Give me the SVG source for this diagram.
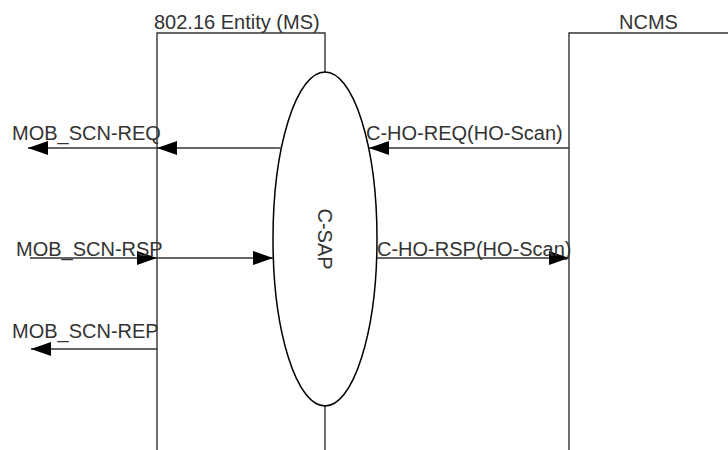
<svg xmlns="http://www.w3.org/2000/svg" width="728" height="450" viewBox="0 0 728 450">
<defs>
<marker id="ah" markerUnits="userSpaceOnUse" markerWidth="20" markerHeight="14" refX="20" refY="7" orient="auto">
<path d="M0,0 L20,7 L0,14 z" fill="#000"/>
</marker>
<style>
.t{font-family:"Liberation Sans",Arial,sans-serif;font-size:20px;fill:#333}
.ln{stroke:#333;stroke-width:1.4;fill:none}
.c{stroke:#333;stroke-width:1.4;fill:none;marker-end:url(#ah)}
</style>
</defs>
<rect width="728" height="450" fill="#fff"/>
<g id="ms">
<path class="ln" d="M157,450 V33 H325 V72"/>
<path class="ln" d="M325,406 V450"/>
<text class="t" x="154" y="29">802.16 Entity (MS)</text>
</g>
<g id="ncms">
<path class="ln" d="M569,450 V33 H728"/>
<text class="t" x="619" y="29">NCMS</text>
</g>
<g id="csap">
<ellipse cx="325" cy="239" rx="52" ry="167" fill="none" stroke="#000" stroke-width="1.5"/>
<text class="t" x="0" y="0" text-anchor="middle" transform="translate(318,239) rotate(90)">C-SAP</text>
</g>
<g id="connectors">
<line class="c" x1="282" y1="148" x2="157" y2="148"/>
<line class="c" x1="157" y1="148" x2="28" y2="148"/>
<line class="c" x1="569" y1="148" x2="369" y2="148"/>
<line class="c" x1="30" y1="258" x2="157" y2="258"/>
<line class="c" x1="157" y1="258" x2="273" y2="258"/>
<line class="c" x1="377" y1="258" x2="569" y2="258"/>
<line class="c" x1="157" y1="349" x2="31" y2="349"/>
<text class="t" x="12" y="140">MOB_SCN-REQ</text>
<text class="t" x="366" y="140">C-HO-REQ(HO-Scan)</text>
<text class="t" x="16" y="256">MOB_SCN-RSP</text>
<text class="t" x="377" y="256">C-HO-RSP(HO-Scan)</text>
<text class="t" x="12" y="338">MOB_SCN-REP</text>
</g>
</svg>
